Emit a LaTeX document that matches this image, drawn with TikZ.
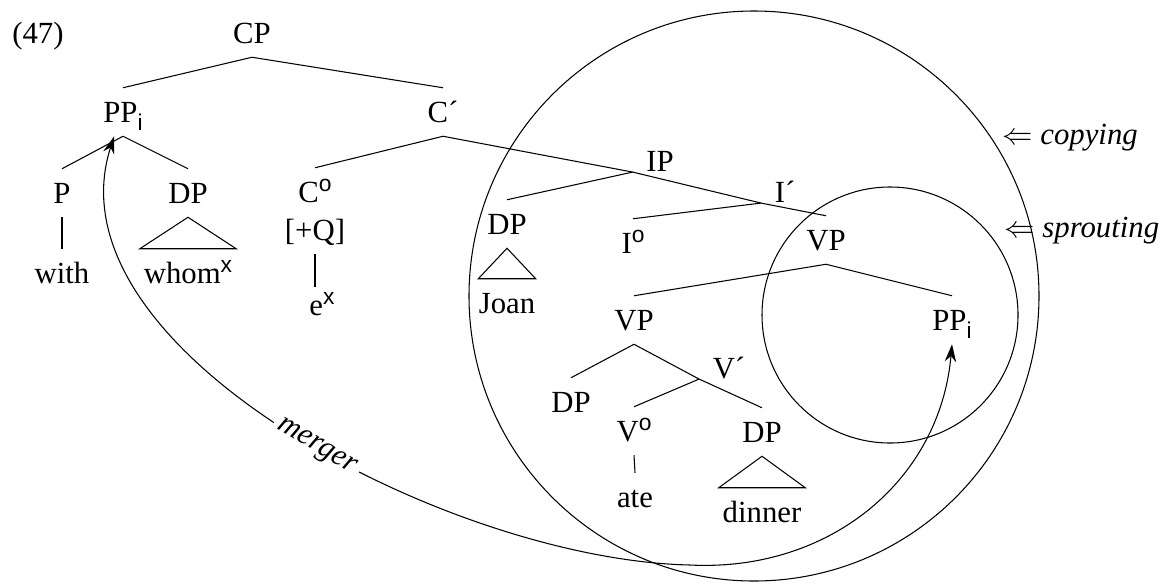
\documentclass[tikz,border=0pt]{standalone}
\usepackage{fontspec}
\setmainfont{Liberation Serif}
\setsansfont{Liberation Sans}
\usetikzlibrary{arrows.meta}
\newcommand\upx[1]{\raisebox{6.5pt}{\fontsize{13}{13}\selectfont\sffamily #1}}
\newcommand\dnx[1]{\raisebox{-4.5pt}{\fontsize{13}{13}\selectfont\sffamily #1}}

\begin{document}
\begin{tikzpicture}[x=0.02cm,y=-0.02cm,>={Stealth[length=10pt,width=6.5pt]},line width=0.6pt,
  every node/.style={font=\fontsize{17.5}{20}\selectfont},
  lab/.style={inner sep=0pt,text height=12pt,text depth=0pt,minimum height=27pt},
  bar/.style={lab,inner xsep=7.5pt,minimum height=0pt},
  roof/.style={lab,inner xsep=2pt}]
  \useasboundingbox (0,0) rectangle (1162,582);
  % the two domains
  \draw (754,296) circle (285);
  \draw (890,315) circle (128);
  \node[anchor=base west] (copy) at (996,144) {$\Leftarrow$ \textit{copying}};
  \node[anchor=base west] (sprout) at (998,237) {$\Leftarrow$ \textit{sprouting}};
  % CP layer
  \node[lab] (num) at (38,33) {(47)};
  \node[lab] (cp) at (252,33) {CP};
  \node[lab] (ppL) at (123,112) {PP\dnx{i}};
  \node[lab] (cbar) at (443,112) {C´};
  \node[lab] (p) at (62,193) {P};
  \node[lab] (dpL) at (188,193) {DP};
  \node[lab] (with) at (62,273) {with};
  \node[roof] (whom) at (188,273) {whom\upx{x}};
  \node[lab] (co) at (315,192) {C\upx{o}};
  \node[lab] (plusq) at (315,230) {[+Q]};
  \node[lab] (ex) at (322,305) {e\upx{x}};
  \draw (cp.south) -- (ppL.north);
  \draw (cp.south) -- (cbar.north);
  \draw (ppL.south) -- (p.north);
  \draw (ppL.south) -- (dpL.north);
  \draw (p.south) -- (with.north);
  \draw (dpL.south) -- (whom.north west) -- (whom.north east) -- cycle;
  \draw (cbar.south) -- (co.north);
  \draw[shorten >=-3.4pt] (plusq.south) -- (plusq.south |- ex.north);
  % IP layer
  \node[bar] (ip) at (660,161) {IP};
  \node[lab] (dpJ) at (507,224) {DP};
  \node[roof,inner xsep=0pt] (joan) at (507,303) {Joan};
  \node[bar] (ibar) at (785,192) {I´};
  \node[lab] (io) at (633,243) {I\upx{o}};
  \node[lab] (vpR) at (826,240) {VP};
  \draw (cbar.south) -- (ip.south west);
  \draw (ip.south west) -- (dpJ.north);
  \draw (ip.south west) -- (ibar.south west);
  \draw (dpJ.south) -- (joan.north west) -- (joan.north east) -- cycle;
  \draw (ibar.south west) -- (io.north);
  \draw (ibar.south west) -- (vpR.north);
  % VP layer
  \node[lab] (vpL) at (634,320) {VP};
  \node[lab] (ppR) at (952,320) {PP\dnx{i}};
  \node[bar] (vbar) at (729,368) {V´};
  \node[lab] (dpV) at (571,402) {DP};
  \node[lab] (vo) at (634,431) {V\upx{o}};
  \node[lab] (dpR) at (762,432) {DP};
  \node[lab] (ate) at (635,497) {ate};
  \node[roof] (dinner) at (762,512) {dinner};
  \draw (vpR.south) -- (vpL.north);
  \draw (vpR.south) -- (ppR.north);
  \draw (vpL.south) -- (dpV.north);
  \draw (vpL.south) -- (vbar.south west) -- (dpR.north);
  \draw (vbar.south west) -- (vo.north);
  \draw (vo.south) -- (ate.north);
  \draw (dpR.south) -- (dinner.north west) -- (dinner.north east) -- cycle;
  % merger
  \draw[<->] (ppL.250) .. controls (45,350) and (450,560) ..
    node[pos=0.54,sloped,fill=white,inner sep=3pt] {\textit{merger}} (690,565)
    .. controls (830,572) and (940,480) .. (ppR.south);
\end{tikzpicture}
\end{document}
